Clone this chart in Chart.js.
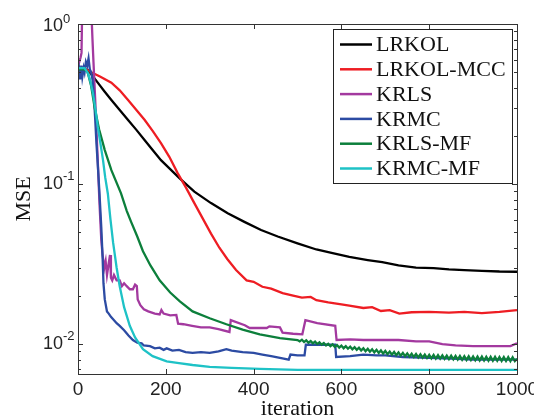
<!DOCTYPE html>
<html>
<head>
<meta charset="utf-8">
<script src="https://cdn.jsdelivr.net/npm/chart.js@4.4.0/dist/chart.umd.min.js"></script>
<style>
  html, body { margin: 0; padding: 0; background: #fff; }
  canvas { display: block; }
</style>
</head>
<body>
<canvas id="myChart" width="534" height="418"></canvas>
<script>
// LRKOL
var lrkolIter = [0, 15, 23, 45, 60, 76, 95, 114, 133, 152, 170, 189, 210, 231, 265, 303, 341, 379, 417, 455, 500, 543, 580, 618, 660, 693, 730, 770, 810, 845, 880, 920, 960, 1000]
var lrkolMse = [0.51, 0.52, 0.516, 0.43, 0.38, 0.335, 0.29, 0.251, 0.218, 0.188, 0.163, 0.141, 0.124, 0.109, 0.0896, 0.076, 0.0656, 0.058, 0.0516, 0.047, 0.0426, 0.039, 0.037, 0.035, 0.0335, 0.0325, 0.031, 0.030, 0.0298, 0.0293, 0.029, 0.0287, 0.0284, 0.0283]

// LRKOL-MCC
var mccIter = [0, 20, 30, 50, 76, 95, 114, 133, 152, 170, 189, 208, 227, 246, 265, 284, 303, 322, 340, 360, 384, 400, 420, 440, 466, 490, 510, 530, 543, 570, 600, 618, 650, 670, 690, 710, 732, 760, 800, 845, 880, 920, 960, 1000]
var mccMse = [0.51, 0.52, 0.50, 0.47, 0.43, 0.385, 0.335, 0.29, 0.251, 0.215, 0.18, 0.148, 0.117, 0.095, 0.076, 0.061, 0.049, 0.040, 0.034, 0.029, 0.025, 0.0245, 0.0228, 0.0222, 0.0208, 0.0201, 0.0195, 0.0197, 0.0188, 0.0182, 0.0177, 0.0174, 0.0168, 0.0170, 0.0161, 0.0163, 0.0155, 0.0158, 0.0159, 0.0157, 0.0159, 0.0156, 0.0159, 0.0163]

// KRLS
var krlsIter = [0, 3, 6, 8, 10, 20, 29, 33, 35, 40, 45, 49, 53, 56, 60, 63, 66, 70, 73, 75, 78, 82, 88, 95, 100, 105, 111, 118, 125, 130, 134, 136, 142, 150, 160, 175, 186, 190, 195, 210, 224, 228, 240, 260, 280, 300, 320, 345, 348, 380, 391, 430, 436, 460, 466, 490, 511, 518, 545, 586, 589, 620, 650, 693, 730, 770, 800, 830, 860, 900, 950, 985, 1000]
var krlsMse = [0.55, 0.58, 0.62, 0.66, 1.5, 3.0, 1.5, 0.8, 0.6, 0.30, 0.14, 0.075, 0.045, 0.036, 0.030, 0.033, 0.027, 0.032, 0.036, 0.026, 0.025, 0.027, 0.025, 0.025, 0.023, 0.024, 0.023, 0.022, 0.022, 0.0235, 0.023, 0.019, 0.0175, 0.0165, 0.016, 0.0155, 0.0153, 0.0163, 0.0155, 0.0151, 0.0152, 0.0134, 0.0133, 0.013, 0.0127, 0.0127, 0.0124, 0.0119, 0.0141, 0.0131, 0.0126, 0.0126, 0.0129, 0.0127, 0.0118, 0.0116, 0.0115, 0.0141, 0.0135, 0.0130, 0.0106, 0.0107, 0.0106, 0.0106, 0.0106, 0.0104, 0.0104, 0.0100, 0.0098, 0.0097, 0.0097, 0.0097, 0.0101]

// KRMC
var krmcIter = [0, 3, 5, 8, 10, 13, 15, 18, 21, 24, 27, 30, 33, 36, 39, 42, 46, 49, 53, 56, 58, 61, 66, 70, 75, 80, 88, 95, 105, 115, 125, 135, 145, 150, 164, 175, 186, 195, 202, 215, 230, 245, 261, 280, 300, 320, 338, 350, 375, 400, 420, 440, 460, 480, 484, 500, 516, 519, 550, 586, 588, 620, 650, 680, 700, 740, 800, 850, 900, 950, 1000]
var krmcMse = [0.48, 0.52, 0.45, 0.55, 0.47, 0.53, 0.50, 0.58, 0.55, 0.61, 0.52, 0.50, 0.45, 0.36, 0.26, 0.18, 0.12, 0.087, 0.054, 0.035, 0.024, 0.019, 0.016, 0.0155, 0.0148, 0.0143, 0.0135, 0.013, 0.0122, 0.0113, 0.0106, 0.0102, 0.0101, 0.0098, 0.0097, 0.0094, 0.0095, 0.0092, 0.0094, 0.0091, 0.0092, 0.0089, 0.0088, 0.0089, 0.0088, 0.0090, 0.0093, 0.0091, 0.0089, 0.0088, 0.0086, 0.0084, 0.0082, 0.0080, 0.0086, 0.0085, 0.0085, 0.0099, 0.0099, 0.0099, 0.0083, 0.0084, 0.0086, 0.0085, 0.0085, 0.0083, 0.0082, 0.0081, 0.0080, 0.0080, 0.0080]

// KRLS-MF (noisy band after ~500)
var krlsMfIter = [0, 15, 22, 30, 38, 48, 61, 76, 98, 111, 121, 135, 148, 165, 186, 210, 232, 261, 300, 338, 375, 414, 460,
  500, 505, 510, 515, 520, 525, 530, 535, 540, 545, 550, 555, 560, 565, 570, 575, 580, 585, 590, 595,
  600, 605, 610, 615, 620, 625, 630, 635, 640, 645, 650, 655, 660, 665, 670, 675, 680, 685, 690, 695,
  700, 705, 710, 715, 720, 725, 730, 735, 740, 745, 750, 755, 760, 765, 770, 775, 780, 785, 790, 795,
  800, 805, 810, 815, 820, 825, 830, 835, 840, 845, 850, 855, 860, 865, 870, 875, 880, 885, 890, 895,
  900, 905, 910, 915, 920, 925, 930, 935, 940, 945, 950, 955, 960, 965, 970, 975, 980, 985, 990, 995, 1000]
var krlsMfMse = [0.52, 0.52, 0.50, 0.41, 0.30, 0.22, 0.163, 0.122, 0.0875, 0.068, 0.058, 0.047, 0.038, 0.031, 0.025, 0.021, 0.0185, 0.016, 0.0145, 0.0133, 0.0123, 0.0115, 0.0109,
  0.0106, 0.01040, 0.01065, 0.01030, 0.01055, 0.01020, 0.01045, 0.01010, 0.01035, 0.01000, 0.01025, 0.00990, 0.01015, 0.00980, 0.01005, 0.00970, 0.00995, 0.00960, 0.00985, 0.00950,
  0.00978, 0.00942, 0.00970, 0.00935, 0.00962, 0.00928, 0.00955, 0.00920, 0.00948, 0.00912, 0.00942, 0.00902, 0.00935, 0.00895, 0.00928, 0.00888, 0.00920, 0.00880, 0.00912, 0.00872,
  0.00905, 0.00865, 0.00898, 0.00858, 0.00892, 0.00852, 0.00886, 0.00846, 0.00880, 0.00840, 0.00875, 0.00835, 0.00871, 0.00830, 0.00867, 0.00826, 0.00863, 0.00822, 0.00860, 0.00818,
  0.00857, 0.00815, 0.00855, 0.00812, 0.00852, 0.00810, 0.00850, 0.00808, 0.00848, 0.00806, 0.00846, 0.00803, 0.00844, 0.00800, 0.00842, 0.00798, 0.00840, 0.00796, 0.00838, 0.00794,
  0.00836, 0.00792, 0.00835, 0.00790, 0.00834, 0.00789, 0.00833, 0.00788, 0.00832, 0.00787, 0.00831, 0.00786, 0.00830, 0.00785, 0.00829, 0.00784, 0.00828, 0.00783, 0.00827, 0.00782, 0.00810]

// KRMC-MF
var krmcMfIter = [0, 15, 23, 28, 34, 40, 45, 51, 57, 62, 68, 74, 80, 88, 95, 105, 118, 130, 148, 170, 202, 230, 261, 300, 350, 414, 500, 600, 700, 800, 900, 1000]
var krmcMfMse = [0.53, 0.53, 0.49, 0.44, 0.37, 0.29, 0.228, 0.18, 0.141, 0.11, 0.087, 0.06, 0.043, 0.030, 0.023, 0.017, 0.013, 0.011, 0.0093, 0.0084, 0.0078, 0.0076, 0.0074, 0.0072, 0.0071, 0.0070, 0.0069, 0.0069, 0.0069, 0.0069, 0.0069, 0.0069]

var seriesNames = ["LRKOL", "LRKOL-MCC", "KRLS", "KRMC", "KRLS-MF", "KRMC-MF"]
var seriesColors = ["#000000", "#ee1d23", "#a3399f", "#2c4ba3", "#0c7f3b", "#1ec2c6"]
var seriesIter = [lrkolIter, mccIter, krlsIter, krmcIter, krlsMfIter, krmcMfIter]
var seriesMse = [lrkolMse, mccMse, krlsMse, krmcMse, krlsMfMse, krmcMfMse]

var xTicks = [0, 200, 400, 600, 800, 1000]
var yDecades = [1, 0.1, 0.01]
var yTickLabels = [["10", "0"], ["10", "-1"], ["10", "-2"]]

var sansFont = "'Liberation Sans', Arial, Helvetica, sans-serif"
var serifFont = "'Liberation Serif', 'Times New Roman', serif"

function toPoints(xs, ys) {
  var res = []
  for (var i = 0; i < xs.length; i++) {
    res.push({ x: xs[i], y: ys[i] })
  }
  return res
}

var datasets = []
for (var i = 0; i < seriesNames.length; i++) {
  datasets.push({
    label: seriesNames[i],
    data: toPoints(seriesIter[i], seriesMse[i]),
    borderColor: seriesColors[i],
    borderWidth: 2.3,
    pointRadius: 0,
    fill: false,
    tension: 0,
    // later series on top, like matlab
    order: seriesNames.length - i
  })
}

// box, inward ticks and 10^k labels
var axesFrame = {
  id: "axesFrame",
  afterDatasetsDraw: function(chart) {
    var ctx = chart.ctx
    var a = chart.chartArea
    var xs = chart.scales.x
    var ys = chart.scales.y
    ctx.save()
    ctx.strokeStyle = "#333"
    ctx.lineWidth = 1
    ctx.strokeRect(a.left + 0.5, a.top + 0.5, a.right - a.left, a.bottom - a.top)
    ctx.beginPath()
    for (var i = 0; i < xTicks.length; i++) {
      var px = Math.round(xs.getPixelForValue(xTicks[i])) + 0.5
      ctx.moveTo(px, a.bottom)
      ctx.lineTo(px, a.bottom - 5)
      ctx.moveTo(px, a.top)
      ctx.lineTo(px, a.top + 5)
    }
    for (var k = -3; k <= 0; k++) {
      for (var m = 1; m <= 9; m++) {
        var v = m * Math.pow(10, k)
        if (v < ys.min || v > ys.max) continue
        var py = Math.round(ys.getPixelForValue(v)) + 0.5
        var len = m == 1 ? 5 : 3
        ctx.moveTo(a.left, py)
        ctx.lineTo(a.left + len, py)
        ctx.moveTo(a.right, py)
        ctx.lineTo(a.right - len, py)
      }
    }
    ctx.stroke()

    ctx.fillStyle = "#222"
    ctx.textBaseline = "middle"
    ctx.textAlign = "left"
    for (var j = 0; j < yDecades.length; j++) {
      var cy = Math.max(ys.getPixelForValue(yDecades[j]), a.top + 2.5)
      ctx.font = "18px " + sansFont
      ctx.fillText(yTickLabels[j][0], 43, cy)
      var w = ctx.measureText(yTickLabels[j][0]).width
      ctx.font = "13px " + sansFont
      ctx.fillText(yTickLabels[j][1], 43 + w, cy - 7.5)
    }
    ctx.restore()
  }
}

var boxLegend = {
  id: "boxLegend",
  afterDraw: function(chart) {
    var ctx = chart.ctx
    var sets = chart.data.datasets
    ctx.save()
    ctx.fillStyle = "#fff"
    ctx.fillRect(333, 29, 179, 154)
    ctx.strokeStyle = "#222"
    ctx.lineWidth = 1
    ctx.strokeRect(333.5, 29.5, 179, 154)
    ctx.font = "22px " + serifFont
    ctx.textBaseline = "middle"
    ctx.textAlign = "left"
    for (var i = 0; i < sets.length; i++) {
      var y = 44.5 + i * 24.8
      ctx.strokeStyle = sets[i].borderColor
      ctx.lineWidth = 2.5
      ctx.beginPath()
      ctx.moveTo(340, y)
      ctx.lineTo(372, y)
      ctx.stroke()
      ctx.fillStyle = "#111"
      ctx.fillText(sets[i].label, 376, y + 1)
    }
    ctx.restore()
  }
}

var ctx = document.getElementById("myChart")
var myChart = new Chart(ctx, {
  type: "line",
  data: { datasets: datasets },
  plugins: [axesFrame, boxLegend],
  options: {
    responsive: false,
    animation: false,
    layout: { padding: { top: 24, right: 17, left: 0, bottom: 0 } },
    plugins: {
      legend: { display: false },
      tooltip: { enabled: false }
    },
    scales: {
      x: {
        type: "linear",
        min: 0,
        max: 1000,
        grid: { display: false, drawTicks: false },
        border: { display: false },
        ticks: {
          stepSize: 200,
          autoSkip: false,
          maxRotation: 0,
          padding: 4,
          color: "#222",
          font: { family: sansFont, size: 19 },
          callback: function(value) { return String(value) }
        },
        title: {
          display: true,
          text: "iteration",
          color: "#111",
          font: { family: serifFont, size: 22 },
          padding: { top: 0, bottom: -4 }
        },
        afterFit: function(s) {
          s.height = 44
          s.paddingLeft = 0
          s.paddingRight = 0
        }
      },
      y: {
        type: "logarithmic",
        min: 0.0065,
        max: 1,
        grid: { display: false, drawTicks: false },
        border: { display: false },
        ticks: { display: false },
        title: {
          display: true,
          text: "MSE",
          color: "#111",
          font: { family: serifFont, size: 22 },
          padding: { top: 11, bottom: 0 }
        },
        afterFit: function(s) {
          s.width = 78
          s.paddingTop = 0
          s.paddingBottom = 0
        }
      }
    }
  }
})
</script>
</body>
</html>
